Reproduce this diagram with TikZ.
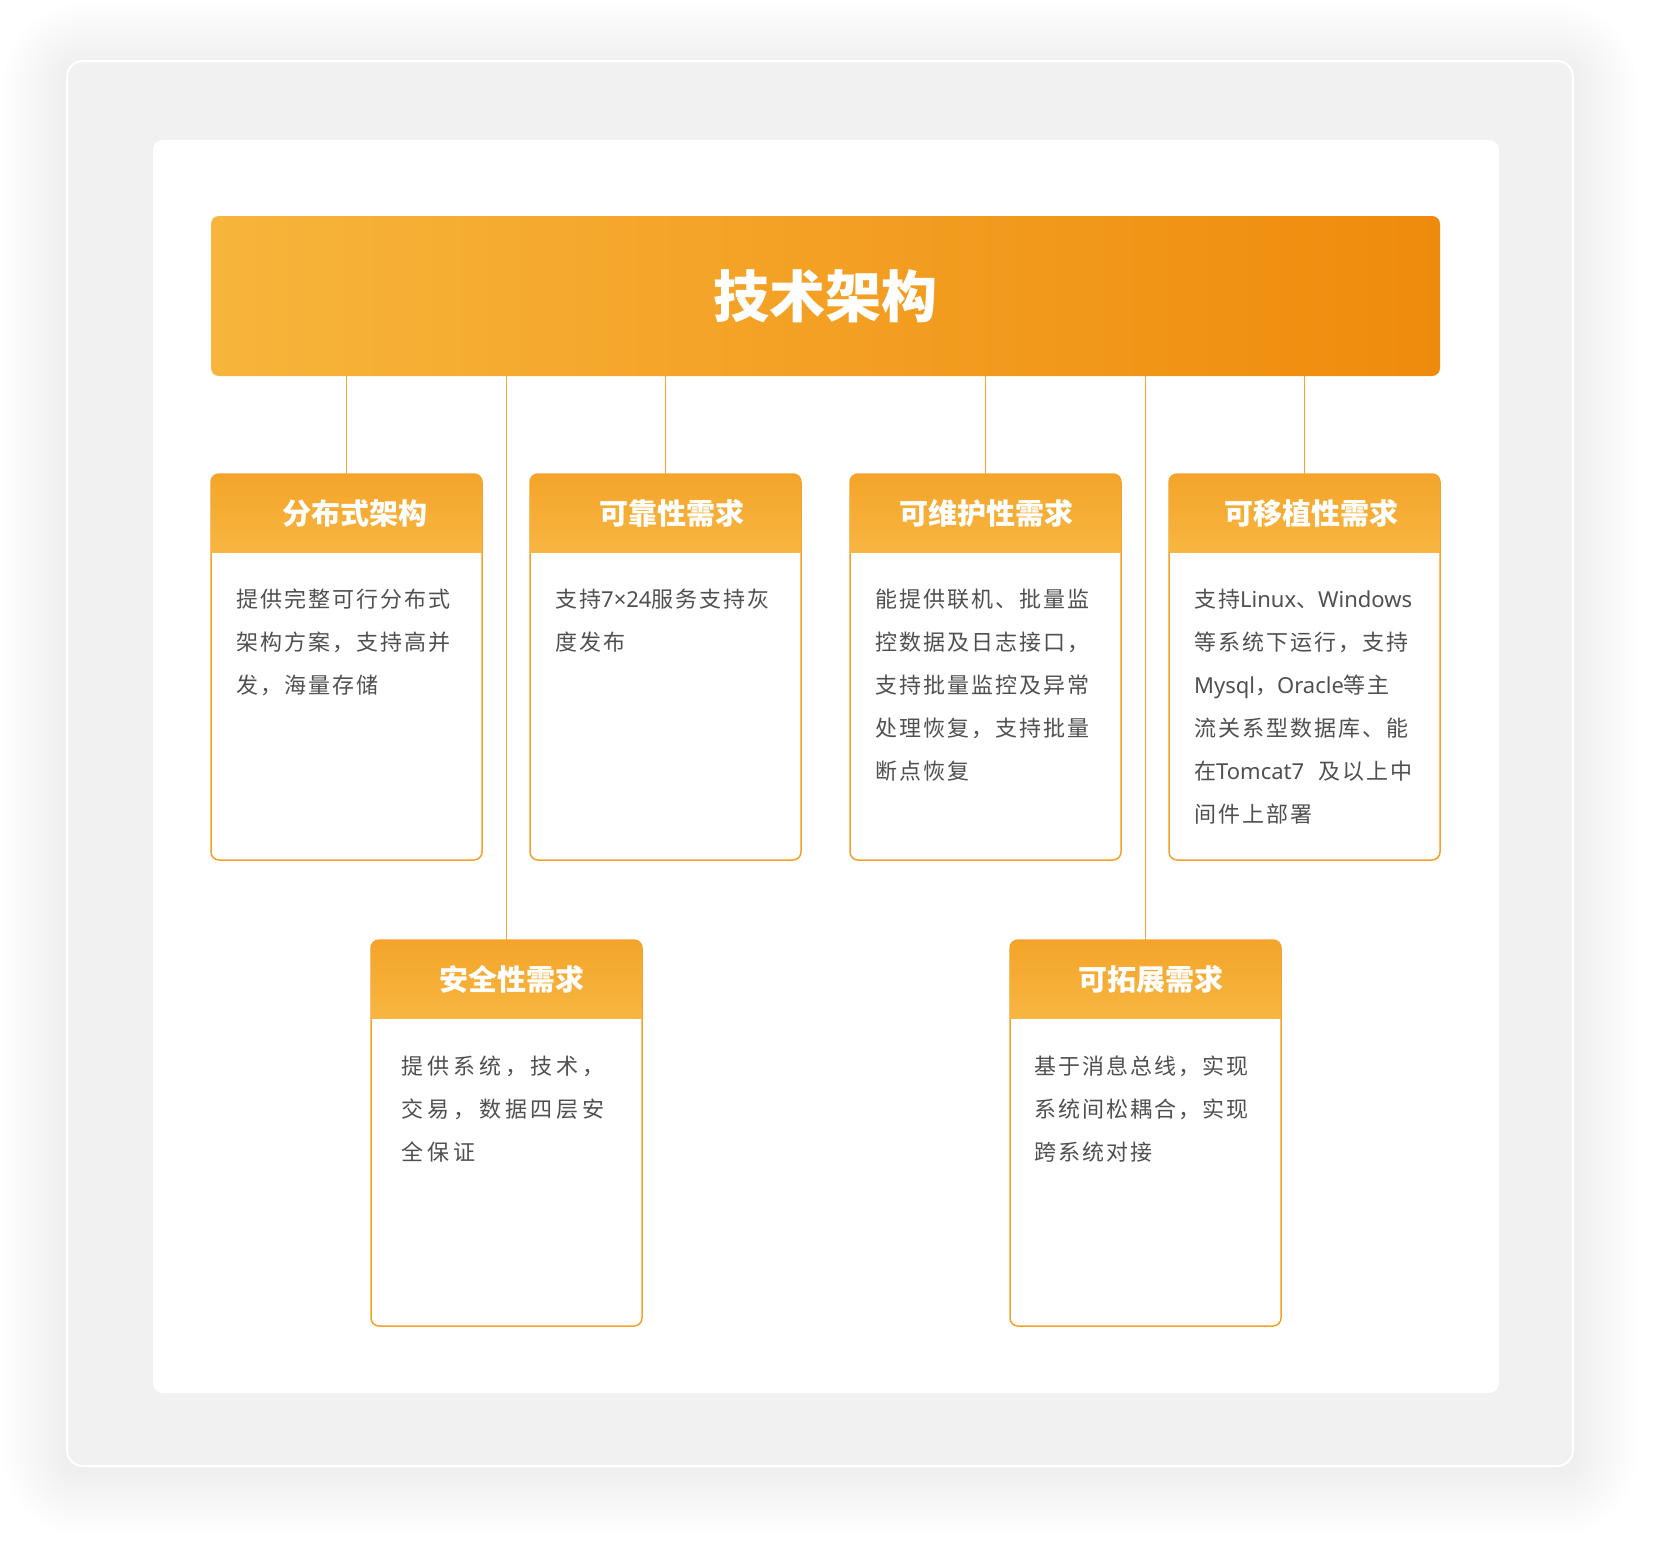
\documentclass[tikz,border=0pt]{standalone}
\usepackage{fontspec}
\setmainfont{Noto Sans CJK SC}
\newfontfamily\latfont{Noto Sans}
\newcommand\lat[1]{{\latfont #1}}
\usetikzlibrary{positioning}
\definecolor{bannerL}{HTML}{F7B53B}
\definecolor{bannerR}{HTML}{EF8B0C}
\definecolor{headT}{HTML}{F4A42A}
\definecolor{headB}{HTML}{F7B641}
\definecolor{edgecol}{HTML}{F3A02C}
\definecolor{linkcol}{HTML}{F3A43A}
\definecolor{panelgray}{HTML}{F1F1F1}
\definecolor{bodygray}{HTML}{505050}

\begin{document}
\begin{tikzpicture}
		[x=1pt, y=-1pt,
		panel/.style ={fill=panelgray, draw=white, line width=2pt, rounded corners=16pt},
		glow/.style ={fill=black, fill opacity=0.0035, draw=none},
		banner/.style ={rectangle, rounded corners=8pt, left color=bannerL, right color=bannerR, minimum width=1229pt, minimum height=160pt, inner sep=0pt, outer sep=0pt, text=white, font=\bfseries\fontsize{56}{56}\selectfont},
		card/.style ={rectangle, draw=edgecol, line width=1.5pt, fill=white, rounded corners=8pt, minimum width=271pt, minimum height=386pt, inner sep=0pt, outer sep=0pt},
		head/.style ={top color=headT, bottom color=headB},
		headtext/.style ={text=white, font=\bfseries\fontsize{29}{29}\selectfont},
		body/.style ={anchor=base west, text width=262pt, align=left, inner sep=0pt, text=bodygray, font=\fontsize{22}{43}\selectfont\addfontfeatures{LetterSpace=9}},
		link/.style ={draw=linkcol, line width=1.5pt},
		]

		\fill[white] (0,0) rectangle (1662,1561);
		\useasboundingbox (0,0) rectangle (1662,1561);
		% soft shadow round the panel
		\foreach \g in {1,...,16}
			\fill[glow, rounded corners=16pt+4pt*\g] (67-4*\g,61-4*\g+6) rectangle (1573+4*\g,1466+4*\g+6);
		\draw[panel] (67,61) rectangle (1573,1466);
		\fill[white, rounded corners=10pt] (153,140) rectangle (1499,1393);

		\draw (825.5,296) node[banner] (TOP) {技术架构};

		\draw (346.5,667) node[card] (C1) {};
		\draw (665.5,667) node[card] (C2) {};
		\draw (985.5,667) node[card] (C3) {};
		\draw (1304.5,667) node[card] (C4) {};
		\draw (506.5,1133) node[card] (C5) {};
		\draw (1145.5,1133) node[card] (C6) {};

		% header bands
		\foreach \c in {C1,C2,C3,C4,C5,C6} {
			\begin{scope}
				\clip[rounded corners=8pt] (\c.north west) rectangle (\c.south east);
				\shade[head] (\c.north west) rectangle ([yshift=-78pt]\c.north east);
			\end{scope}
		}

		\draw ([xshift=8pt,yshift=-39pt]C1.north) node[headtext] (H1) {分布式架构};
		\draw ([xshift=6pt,yshift=-39pt]C2.north) node[headtext] (H2) {可靠性需求};
		\draw ([xshift=1pt,yshift=-39pt]C3.north) node[headtext] (H3) {可维护性需求};
		\draw ([xshift=7pt,yshift=-39pt]C4.north) node[headtext] (H4) {可移植性需求};
		\draw ([xshift=5pt,yshift=-39pt]C5.north) node[headtext] (H5) {安全性需求};
		\draw ([xshift=5pt,yshift=-39pt]C6.north) node[headtext] (H6) {可拓展需求};

		\draw (236,607) node[body] (B1) {提供完整可行分布式\\架构方案，支持高并\\发，海量存储};
		\draw (555,607) node[body] (B2) {支持\lat{7×24}服务支持灰\\度发布};
		\draw (875,607) node[body] (B3) {能提供联机、批量监\\控数据及日志接口，\\支持批量监控及异常\\处理恢复，支持批量\\断点恢复};
		\draw (1194,607) node[body] (B4) {支持\lat{Linux}、\lat{Windows}\\等系统下运行，支持\\\lat{Mysql}，\lat{Oracle}等主\\流关系型数据库、能\\在\lat{Tomcat7}\ \ 及以上中\\间件上部署};
		\draw (401,1074) node[body, font=\fontsize{22}{43}\selectfont\addfontfeatures{LetterSpace=18}] (B5) {提供系统，技术，\\交易，数据四层安\\全保证};
		\draw (1034,1074) node[body] (B6) {基于消息总线，实现\\系统间松耦合，实现\\跨系统对接};

		\path[link]
		(TOP.south -| C1.north) edge (C1.north)
		(TOP.south -| C2.north) edge (C2.north)
		(TOP.south -| C3.north) edge (C3.north)
		(TOP.south -| C4.north) edge (C4.north)
		(TOP.south -| C5.north) edge (C5.north)
		(TOP.south -| C6.north) edge (C6.north);
	\end{tikzpicture}
\end{document}
